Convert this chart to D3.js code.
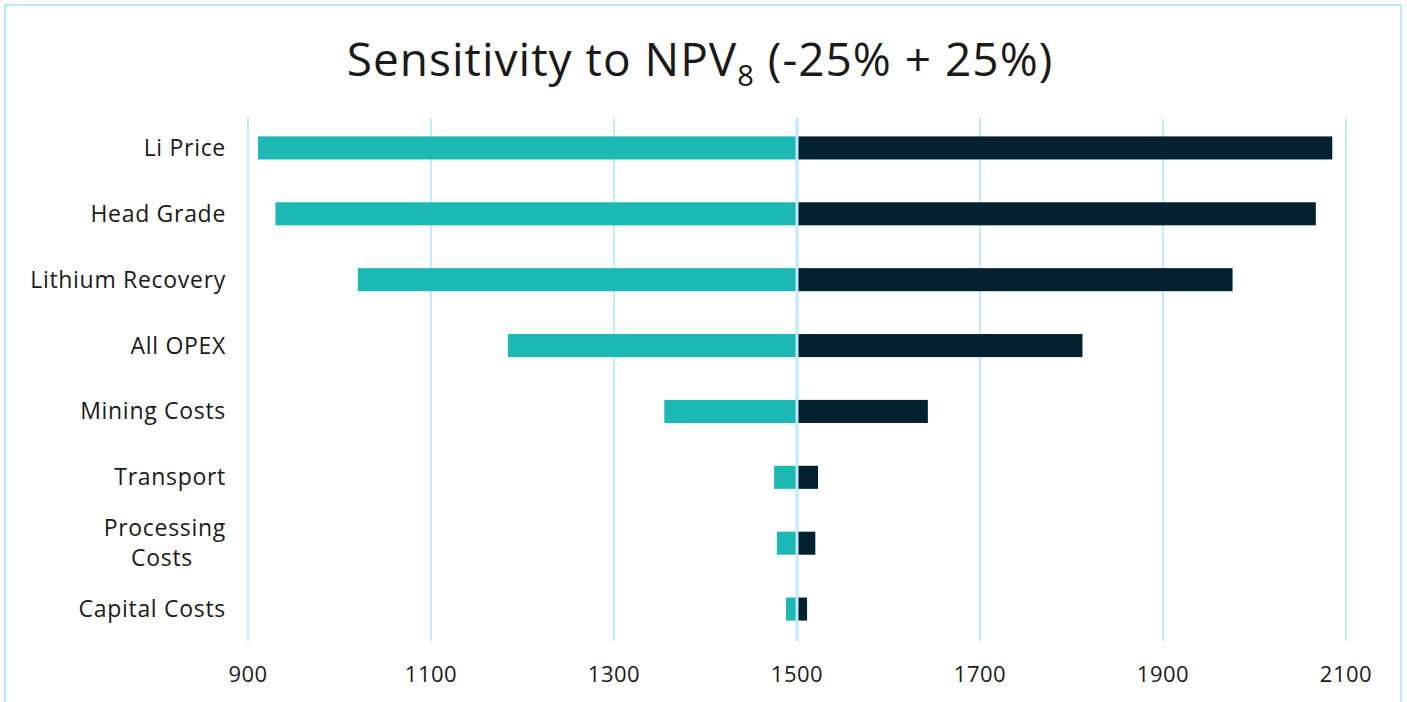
<!DOCTYPE html>
<html lang="en">
<head>
    <meta charset="UTF-8">
    <title>Sensitivity to NPV8</title>
    <script src="https://d3js.org/d3.v7.min.js"></script>
</head>
<style>
    body { margin: 0; background: #fff; }
    text { font-family: "Open Sans", sans-serif; fill: #1a1a1a; }
    .grid line { stroke: #c3ebf9; stroke-width: 2px; }
</style>
<body>
<div class="chart"></div>
<script>
    // data
    var categories = ["Li Price", "Head Grade", "Lithium Recovery", "All OPEX",
                      "Mining Costs", "Transport", "Processing Costs", "Capital Costs"];
    var lowValues  = [911, 930, 1020, 1184, 1355, 1475, 1478, 1488];
    var highValues = [2085, 2067, 1976, 1812, 1643, 1523, 1520, 1511];
    var baseValue = 1500;
    var xTicks = [900, 1100, 1300, 1500, 1700, 1900, 2100];

    var W = 1407, H = 702;
    var svg = d3.select('.chart').append('svg')
        .attr('width', W).attr('height', H);

    // frame
    svg.append('rect')
        .attr('x', 5).attr('y', 5)
        .attr('width', 1396).attr('height', 720)
        .attr('fill', 'none')
        .attr('stroke', '#b9e9f9')
        .attr('stroke-width', 2);

    var x = d3.scaleLinear().domain([900, 2100]).range([248, 1346]);
    var y = d3.scaleBand().domain(categories)
        .range([115, 642])
        .paddingInner(0.65).paddingOuter(0.325);

    // title
    var title = svg.append('text')
        .attr('x', 700).attr('y', 76)
        .attr('text-anchor', 'middle')
        .style('font-size', '46px')
        .style('letter-spacing', '1px');
    title.append('tspan').text('Sensitivity to NPV');
    title.append('tspan').attr('dy', 10).style('font-size', '29px').text('8');
    title.append('tspan').attr('dy', -10).text(' (-25% + 25%)');

    // grid
    svg.append('g').attr('class', 'grid')
        .selectAll('line')
        .data(xTicks.filter(function(d) { return d !== baseValue; }))
        .enter().append('line')
        .attr('x1', function(d) { return x(d); })
        .attr('x2', function(d) { return x(d); })
        .attr('y1', 118).attr('y2', 641);

    var rows = categories.map(function(c, i) {
        return { name: c, low: lowValues[i], high: highValues[i] };
    });

    svg.append('g').selectAll('rect')
        .data(rows).enter().append('rect')
        .attr('x', function(d) { return x(d.low); })
        .attr('y', function(d) { return y(d.name); })
        .attr('width', function(d) { return x(baseValue) - x(d.low); })
        .attr('height', y.bandwidth())
        .attr('fill', '#1bb8b4');

    svg.append('g').selectAll('rect')
        .data(rows).enter().append('rect')
        .attr('x', function(d) { return x(baseValue); })
        .attr('y', function(d) { return y(d.name); })
        .attr('width', function(d) { return x(d.high) - x(baseValue); })
        .attr('height', y.bandwidth())
        .attr('fill', '#04212f');

    // centre line drawn on top
    svg.append('line')
        .attr('x1', x(baseValue)).attr('x2', x(baseValue))
        .attr('y1', 118).attr('y2', 641)
        .attr('stroke', '#bfeafa').attr('stroke-width', 3);

    // x tick labels
    svg.append('g').selectAll('text')
        .data(xTicks).enter().append('text')
        .attr('x', function(d) { return x(d); })
        .attr('y', 682)
        .attr('text-anchor', 'middle')
        .style('font-size', '22px')
        .style('letter-spacing', '0.5px')
        .text(function(d) { return d; });

    // category labels (Processing Costs wraps)
    var labels = svg.append('g').selectAll('text')
        .data(categories).enter().append('text')
        .attr('text-anchor', 'end')
        .style('font-size', '23px')
        .style('letter-spacing', '0.7px')
        .attr('y', function(d) { return y(d) + y.bandwidth() / 2 + 8; });

    labels.each(function(d) {
        var t = d3.select(this);
        if (d === 'Processing Costs') {
            t.append('tspan').attr('x', 226).attr('dy', -15).text('Processing');
            t.append('tspan').attr('x', 193).attr('dy', 30).text('Costs');
        } else {
            t.append('tspan').attr('x', 226).text(d);
        }
    });
</script>
</body>
</html>
